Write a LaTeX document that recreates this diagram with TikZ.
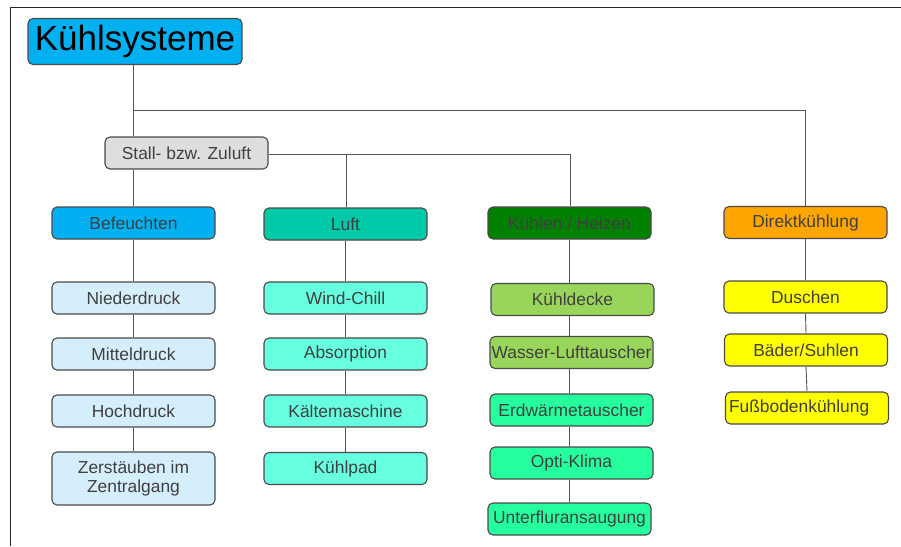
\documentclass[tikz,border=0pt]{standalone}
\usepackage{fontspec}
\setmainfont{Liberation Sans}
\definecolor{topcyan}{HTML}{00B0F0}
\definecolor{luftc}{HTML}{00C9A7}
\definecolor{khc}{HTML}{008000}
\definecolor{dkc}{HTML}{FFA500}
\definecolor{lblue}{HTML}{D4EEFC}
\definecolor{aqua}{HTML}{66FFE0}
\definecolor{lgreen}{HTML}{99D55B}
\definecolor{sgreen}{HTML}{26FF9E}
\definecolor{yel}{HTML}{FFFF00}
\definecolor{lgray}{HTML}{DEDEDE}
\definecolor{txt}{HTML}{404040}
\definecolor{edge}{HTML}{4A4A4A}
\definecolor{conn}{HTML}{555555}
\tikzset{
  box/.style={draw=edge, line width=1.1pt, rounded corners=5pt, inner sep=0pt,
    minimum width=163pt, minimum height=32pt, text=txt, align=center,
    font=\fontsize{17.4}{20.5}\selectfont},
  conline/.style={draw=conn, line width=0.9pt},
}
\begin{document}
\begin{tikzpicture}[x=1pt,y=-1pt]
\useasboundingbox (0,0) rectangle (901,546);
\draw[line width=1pt, black!85] (10,546) -- (10,7.5) -- (901,7.5);
% nodes
\node[box, fill=topcyan, minimum width=214pt, minimum height=46pt, text=black,
  font=\fontsize{35}{40}\selectfont] (ks) at (135,41.5) {Kühlsysteme};
\node[box, fill=lgray] (stall) at (186.5,153) {Stall- bzw. Zuluft};
\node[box, fill=topcyan] (bef) at (133.5,223) {Befeuchten};
\node[box, fill=luftc] (luft) at (345.5,224) {Luft};
\node[box, fill=khc] (kh) at (569.5,223) {Kühlen / Heizen};
\node[box, fill=dkc] (dk) at (805.5,222.5) {Direktkühlung};
% Befeuchten column
\node[box, fill=lblue] (b1) at (133.5,298) {Niederdruck};
\node[box, fill=lblue] (b2) at (133.5,354) {Mitteldruck};
\node[box, fill=lblue] (b3) at (133.5,411) {Hochdruck};
\node[box, fill=lblue, minimum height=53pt] (b4) at (133.5,478.5) {Zerstäuben im\\[-1pt]Zentralgang};
% Luft column
\node[box, fill=aqua] (l1) at (345.5,298) {Wind-Chill};
\node[box, fill=aqua] (l2) at (345.5,354) {Absorption};
\node[box, fill=aqua] (l3) at (345.5,411) {Kältemaschine};
\node[box, fill=aqua] (l4) at (345.5,468.5) {Kühlpad};
% Kühlen column
\node[box, fill=lgreen] (k1) at (572.5,299.5) {Kühldecke};
\node[box, fill=lgreen] (k2) at (571.5,352.5) {\makebox[0pt][c]{Wasser-Lufttauscher}};
\node[box, fill=sgreen] (k3) at (571.5,410) {Erdwärmetauscher};
\node[box, fill=sgreen] (k4) at (571.5,463) {Opti-Klima};
\node[box, fill=sgreen] (k5) at (569.5,519) {Unterfluransaugung};
% Direkt column
\node[box, fill=yel] (d1) at (805.5,297) {Duschen};
\node[box, fill=yel] (d2) at (806,350) {Bäder/Suhlen};
\node[box, fill=yel] (d3) at (807,408) {\makebox[150pt][l]{\hspace{-3pt}Fußbodenkühlung}};
% connectors
\coordinate (j1) at (134,110);
\coordinate (j2) at (346,154);
\coordinate (j3) at (570,154);
\draw[conline] (ks.south -| bef.north) -- (stall.north -| bef.north);
\draw[conline] (stall.south -| bef.north) -- (bef.north);
\draw[conline] (j1) -| (dk.north);
\draw[conline] (stall.east |- j3) -- (j3) -- (j3 |- kh.north);
\draw[conline] (j2) -- (j2 |- luft.north);
\draw[conline] (bef.south) -- (b1.north);
\draw[conline] (b1.south) -- (b2.north);
\draw[conline] (b2.south) -- (b3.north);
\draw[conline] (b3.south) -- (b4.north);
\draw[conline] (luft.south) -- (l1.north);
\draw[conline] (l1.south) -- (l2.north);
\draw[conline] (l2.south) -- (l3.north);
\draw[conline] (l3.south) -- (l4.north);
\draw[conline] (kh.south) -- (kh.south |- k1.north);
\draw[conline] (k1.south -| kh.south) -- (k2.north -| kh.south);
\draw[conline] (k2.south -| kh.south) -- (k3.north -| kh.south);
\draw[conline] (k3.south -| kh.south) -- (k4.north -| kh.south);
\draw[conline] (k4.south -| kh.south) -- (k5.north -| kh.south);
\draw[conline] (dk.south) -- (d1.north);
\draw[conline] (d1.south) -- (d2.north);
\draw[conline] (d2.south) -- (d3.north);
\end{tikzpicture}
\end{document}
